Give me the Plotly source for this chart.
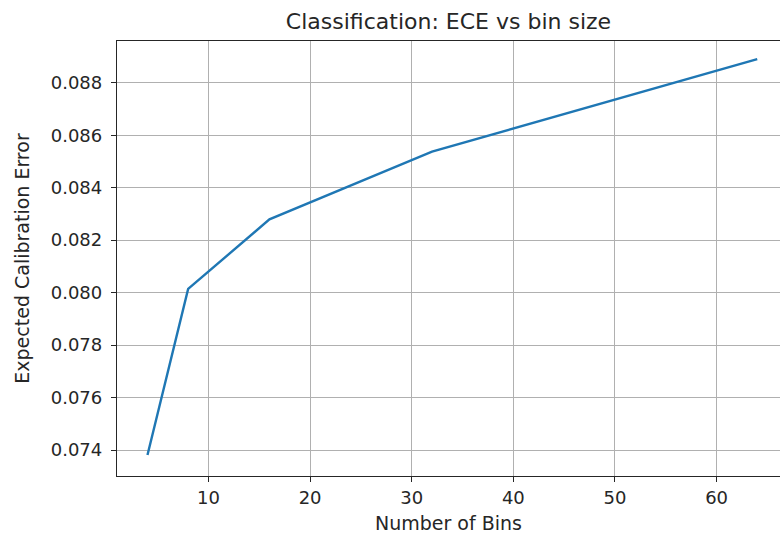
import plotly.graph_objects as go

# Expected calibration error measured for each number of bins
num_bins = [4, 8, 16, 32, 64]
ece_values = [0.07381, 0.08014, 0.08279, 0.08537, 0.08890]

x_ticks = [10, 20, 30, 40, 50, 60]
y_ticks = [0.074, 0.076, 0.078, 0.080, 0.082, 0.084, 0.086, 0.088]

FONT = "DejaVu Sans"
AXIS_COLOR = "#262626"

fig = go.Figure()
fig.add_trace(go.Scatter(
    x=num_bins, y=ece_values, mode="lines",
    line=dict(color="#1f77b4", width=2.4),
    showlegend=False,
))

fig.update_layout(
    width=780, height=539,
    margin=dict(l=117, r=0, t=41, b=63),
    paper_bgcolor="white", plot_bgcolor="white",
    font=dict(family=FONT, size=18, color=AXIS_COLOR),
    title=dict(
        text="Classification: ECE vs bin size",
        x=0.5, xref="paper",
        y=1, yref="paper", yanchor="bottom", pad=dict(b=12),
        font=dict(family=FONT, size=22, color=AXIS_COLOR),
    ),
    xaxis=dict(
        range=[1, 66.24], tickvals=x_ticks,
        showgrid=True, gridcolor="#b0b0b0", gridwidth=1.3,
        showline=True, linecolor=AXIS_COLOR, linewidth=1.3, mirror=True,
        ticks="outside", ticklen=5, tickwidth=1.3, tickcolor=AXIS_COLOR,
        zeroline=False,
        tickfont=dict(family=FONT, size=18, color=AXIS_COLOR),
        title=dict(text="Number of Bins", standoff=9,
                   font=dict(family=FONT, size=19, color=AXIS_COLOR)),
    ),
    yaxis=dict(
        range=[0.07301, 0.08959], tickvals=y_ticks,
        tickformat=".3f",
        showgrid=True, gridcolor="#b0b0b0", gridwidth=1.3,
        showline=True, linecolor=AXIS_COLOR, linewidth=1.3, mirror=False,
        ticks="outside", ticklen=5, tickwidth=1.3, tickcolor=AXIS_COLOR,
        ticklabelstandoff=5,
        zeroline=False,
        tickfont=dict(family=FONT, size=18, color=AXIS_COLOR),
        title=dict(text="Expected Calibration Error", standoff=16,
                   font=dict(family=FONT, size=19, color=AXIS_COLOR)),
    ),
)

fig.write_html("out.html")
